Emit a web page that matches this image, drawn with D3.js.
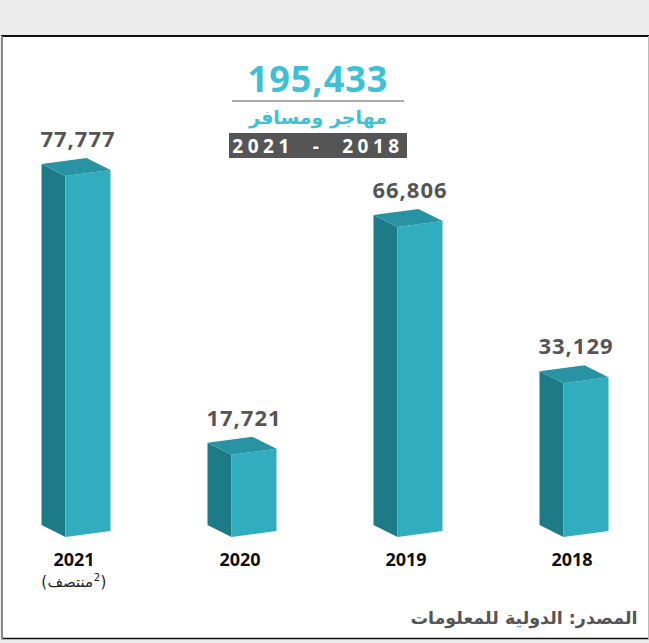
<!DOCTYPE html>
<meta charset="utf-8">
<style>
  body { margin: 0; background: #ececec; }
  svg { display: block; }
</style>
<body>
<script src="https://d3js.org/d3.v7.min.js"></script>
<script>

// Data (right-to-left layout: newest year on the left)
const years  = ["2021", "2020", "2019", "2018"];
const values = [77777, 17721, 66806, 33129];
const totalValue = "195,433";
const totalLabel = "مهاجر ومسافر";
const periodLabel = "2021  -  2018";
const noteLabel = "منتصف";
const sourceLabel = "المصدر: الدولية للمعلومات";

const W = 649, H = 643;

const svg = d3.select("body").append("svg")
    .attr("width", W)
    .attr("height", H);

// white panel with its frame
svg.append("rect")
    .attr("x", 1).attr("y", 35)
    .attr("width", 647).attr("height", 604)
    .attr("fill", "#fff");
svg.append("line").attr("x1", 1).attr("x2", 649).attr("y1", 36).attr("y2", 36)
    .attr("stroke", "#111").attr("stroke-width", 2);
svg.append("line").attr("x1", 1).attr("x2", 649).attr("y1", 638.5).attr("y2", 638.5)
    .attr("stroke", "#111").attr("stroke-width", 1.5);
svg.append("line").attr("x1", 2).attr("x2", 2).attr("y1", 36).attr("y2", 639)
    .attr("stroke", "#888").attr("stroke-width", 2);
svg.append("line").attr("x1", 648.5).attr("x2", 648.5).attr("y1", 36).attr("y2", 639)
    .attr("stroke", "#bbb").attr("stroke-width", 1);

// scales
const x = d3.scalePoint().domain(years).range([88, 586]);
const y = d3.scaleLinear().domain([0, 77777]).range([537, 176]);

const frontW = 45, sideW = 24, frontSlope = 6, sideSlope = 12;

const data = years.map((yr, i) => ({ year: yr, value: values[i] }));

const bars = svg.selectAll(".bar").data(data).enter()
    .append("g").attr("class", "bar");

// side (darker) face
bars.append("path")
    .attr("fill", "#1c7b87")
    .attr("d", d => {
        const fx = x(d.year) - frontW / 2, yt = y(d.value), yb = y(0);
        return `M${fx - sideW},${yt - sideSlope} L${fx},${yt} L${fx},${yb} L${fx - sideW},${yb - sideSlope} Z`;
    });

// front face
bars.append("path")
    .attr("fill", "#30adbe")
    .attr("d", d => {
        const fx = x(d.year) - frontW / 2, yt = y(d.value), yb = y(0);
        return `M${fx},${yt} L${fx + frontW},${yt - frontSlope} L${fx + frontW},${yb - frontSlope} L${fx},${yb} Z`;
    });

// top face
bars.append("path")
    .attr("fill", "#2793a3")
    .attr("d", d => {
        const fx = x(d.year) - frontW / 2, yt = y(d.value);
        return `M${fx - sideW},${yt - sideSlope} L${fx - sideW + frontW},${yt - sideSlope - frontSlope} L${fx + frontW},${yt - frontSlope} L${fx},${yt} Z`;
    });

// value labels
bars.append("text")
    .attr("x", d => x(d.year) - 10)
    .attr("y", d => y(d.value) - 29)
    .attr("text-anchor", "middle")
    .style("font-family", "'Open Sans', sans-serif")
    .style("font-weight", "bold")
    .style("font-size", "22px")
    .style("letter-spacing", "1px")
    .attr("fill", "#555")
    .text(d => d3.format(",")(d.value));

// year labels
bars.append("text")
    .attr("x", d => x(d.year) - 14)
    .attr("y", 566)
    .attr("text-anchor", "middle")
    .style("font-family", "'Open Sans', sans-serif")
    .style("font-weight", "bold")
    .style("font-size", "18px")
    .attr("fill", "#111")
    .text(d => d.year);

// note under 2021: "(" word superscript-2 ")" laid out left to right
// (each piece centred on its own slot; brackets forced LTR so they don't mirror)
const noteG = svg.append("g");
const noteParts = [
    { t: "(", size: 15, dy: 0, ltr: true },
    { t: noteLabel, size: 15, dy: 0, ltr: false },
    { t: "2", size: 10, dy: -6, ltr: true },
    { t: ")", size: 15, dy: 0, ltr: true }
];
let cursor = 0;
noteParts.forEach(p => {
    const t = noteG.append("text")
        .attr("y", 587 + p.dy)
        .attr("text-anchor", "middle")
        .style("font-family", "'DejaVu Sans', sans-serif")
        .style("font-size", p.size + "px")
        .attr("fill", "#222")
        .text(p.t);
    if (p.ltr) t.attr("direction", "ltr").style("unicode-bidi", "bidi-override");
    const w = t.node().getComputedTextLength();
    t.attr("x", cursor + w / 2);
    cursor += w + 0.5;
});
noteG.attr("transform", `translate(${x(years[0]) - 14 - cursor / 2},0)`);

// headline block
svg.append("text")
    .attr("x", 318).attr("y", 92)
    .attr("text-anchor", "middle")
    .style("font-family", "'Open Sans', sans-serif")
    .style("font-weight", "bold")
    .style("font-size", "36px")
    .style("letter-spacing", "1px")
    .attr("fill", "#3ec1d6")
    .text(totalValue);

svg.append("line")
    .attr("x1", 232).attr("x2", 404)
    .attr("y1", 101).attr("y2", 101)
    .attr("stroke", "#555").attr("stroke-width", 1.2);

svg.append("text")
    .attr("x", 318).attr("y", 124)
    .attr("text-anchor", "middle")
    .style("font-family", "'DejaVu Sans', sans-serif")
    .style("font-weight", "bold")
    .style("font-size", "19px")
    .attr("fill", "#3ec1d6")
    .text(totalLabel);

svg.append("rect")
    .attr("x", 229).attr("y", 133)
    .attr("width", 178).attr("height", 25)
    .attr("fill", "#555");

svg.append("text")
    .attr("x", 318).attr("y", 153)
    .attr("text-anchor", "middle")
    .style("font-family", "'Open Sans', sans-serif")
    .style("font-weight", "bold")
    .style("font-size", "19px")
    .style("letter-spacing", "4.5px")
    .style("white-space", "pre")
    .attr("fill", "#fff")
    .text(periodLabel);

// source
svg.append("text")
    .attr("x", 524).attr("y", 624)
    .attr("text-anchor", "middle")
    .style("font-family", "'DejaVu Sans', sans-serif")
    .style("font-weight", "bold")
    .style("font-size", "17.5px")
    .attr("fill", "#555")
    .text(sourceLabel);

</script>
</body>
